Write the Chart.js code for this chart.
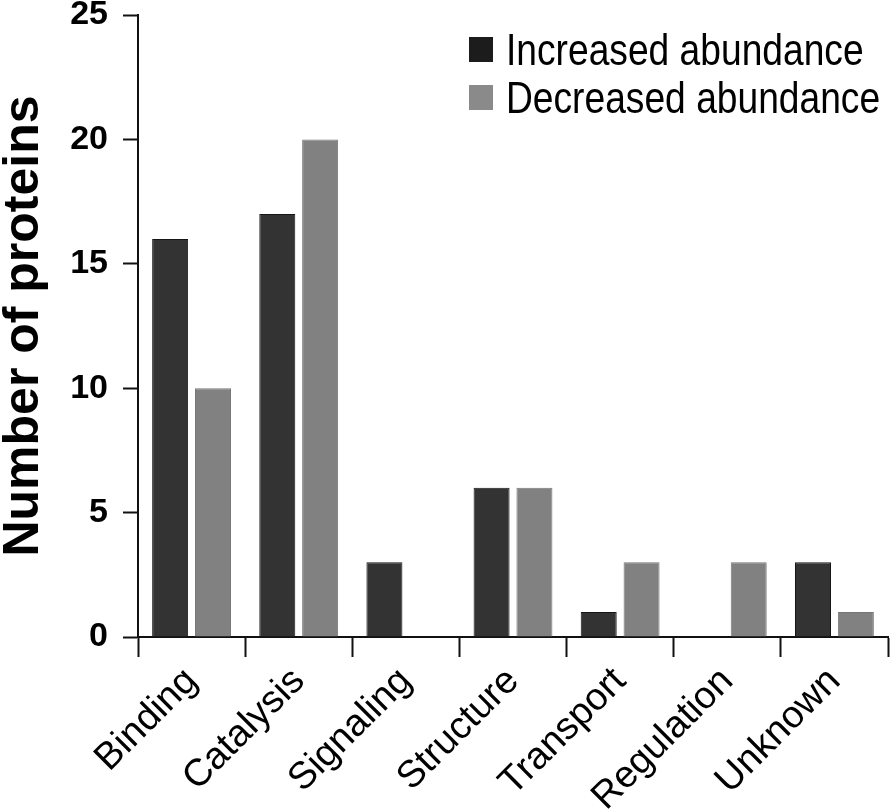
<!DOCTYPE html>
<html>
<head>
<meta charset="utf-8">
<title>Number of proteins by function</title>
<script src="https://cdn.jsdelivr.net/npm/chart.js@4"></script>
<style>
  body { margin: 0; background: #fff; }
</style>
</head>
<body>
<canvas id="proteinChart" width="894" height="811"></canvas>
<script>
// data
const categories = ["Binding", "Catalysis", "Signaling", "Structure", "Transport", "Regulation", "Unknown"];
const increased = [16, 17, 3, 6, 1, 0, 3];
const decreased = [10, 20, 0, 6, 3, 3, 1];
const seriesNames = ["Increased abundance", "Decreased abundance"];
const yTicks = [0, 5, 10, 15, 20, 25];

const FONT = '"Liberation Sans", Arial, sans-serif';

// legend drawn in the top right corner, inside the plot
const cornerLegend = {
    id: 'cornerLegend',
    afterDraw(chart) {
        let ctx = chart.ctx;
        chart.data.datasets.forEach(function (ds, i) {
            let top = 37 + i * 48;
            ctx.fillStyle = ds.legendColor;
            ctx.fillRect(469, top, 24, 25);
            ctx.save();
            ctx.translate(506, top + 28);
            ctx.scale(0.845, 1);   // the source text is set narrow
            ctx.fillStyle = '#000';
            ctx.font = '44px ' + FONT;
            ctx.textBaseline = 'alphabetic';
            ctx.fillText(ds.label, 0, 0);
            ctx.restore();
        });
    }
};

let ctx = document.getElementById("proteinChart").getContext("2d");

new Chart(ctx, {
    type: 'bar',
    data: {
        labels: categories,
        datasets: [{
            label: seriesNames[0],
            data: increased,
            backgroundColor: '#333333',
            borderColor: '#161616',
            borderWidth: 1,
            legendColor: '#1c1c1c'
        }, {
            label: seriesNames[1],
            data: decreased,
            backgroundColor: '#818181',
            borderColor: '#777777',
            borderWidth: 1,
            legendColor: '#8a8a8a'
        }]
    },
    options: {
        responsive: false,
        devicePixelRatio: 1,
        animation: false,
        layout: { padding: { top: 15, right: 6, left: 0, bottom: 0 } },
        datasets: {
            bar: { categoryPercentage: 0.80, barPercentage: 0.84 }
        },
        plugins: {
            legend: { display: false },
            tooltip: { enabled: false }
        },
        scales: {
            x: {
                afterFit: function (scale) { scale.height = 174; },
                grid: {
                    offset: true,
                    drawOnChartArea: false,
                    drawTicks: true,
                    tickLength: 20,
                    tickWidth: 2,
                    tickColor: '#111'
                },
                border: { display: true, color: '#111', width: 2 },
                ticks: {
                    color: '#000',
                    font: { family: FONT, size: 38 },
                    maxRotation: 45,
                    minRotation: 45,
                    padding: 2,
                    autoSkip: false
                }
            },
            y: {
                min: 0,
                max: 25,
                afterFit: function (scale) {
                    scale.width = 138;
                    scale.paddingTop = 0;
                    scale.paddingBottom = 0;
                },
                afterBuildTicks: function (scale) {
                    scale.ticks = yTicks.map(v => ({ value: v }));
                },
                grid: {
                    drawOnChartArea: false,
                    drawTicks: true,
                    tickLength: 15,
                    tickWidth: 2,
                    tickColor: '#111'
                },
                border: { display: true, color: '#111', width: 2 },
                ticks: {
                    color: '#000',
                    font: { family: FONT, size: 34, weight: 'bold' },
                    padding: 15
                },
                title: {
                    display: true,
                    text: 'Number of proteins',
                    color: '#000',
                    font: { family: FONT, size: 50, weight: 'bold', lineHeight: 0.95 },
                    padding: 0
                }
            }
        }
    },
    plugins: [cornerLegend]
});
</script>
</body>
</html>
